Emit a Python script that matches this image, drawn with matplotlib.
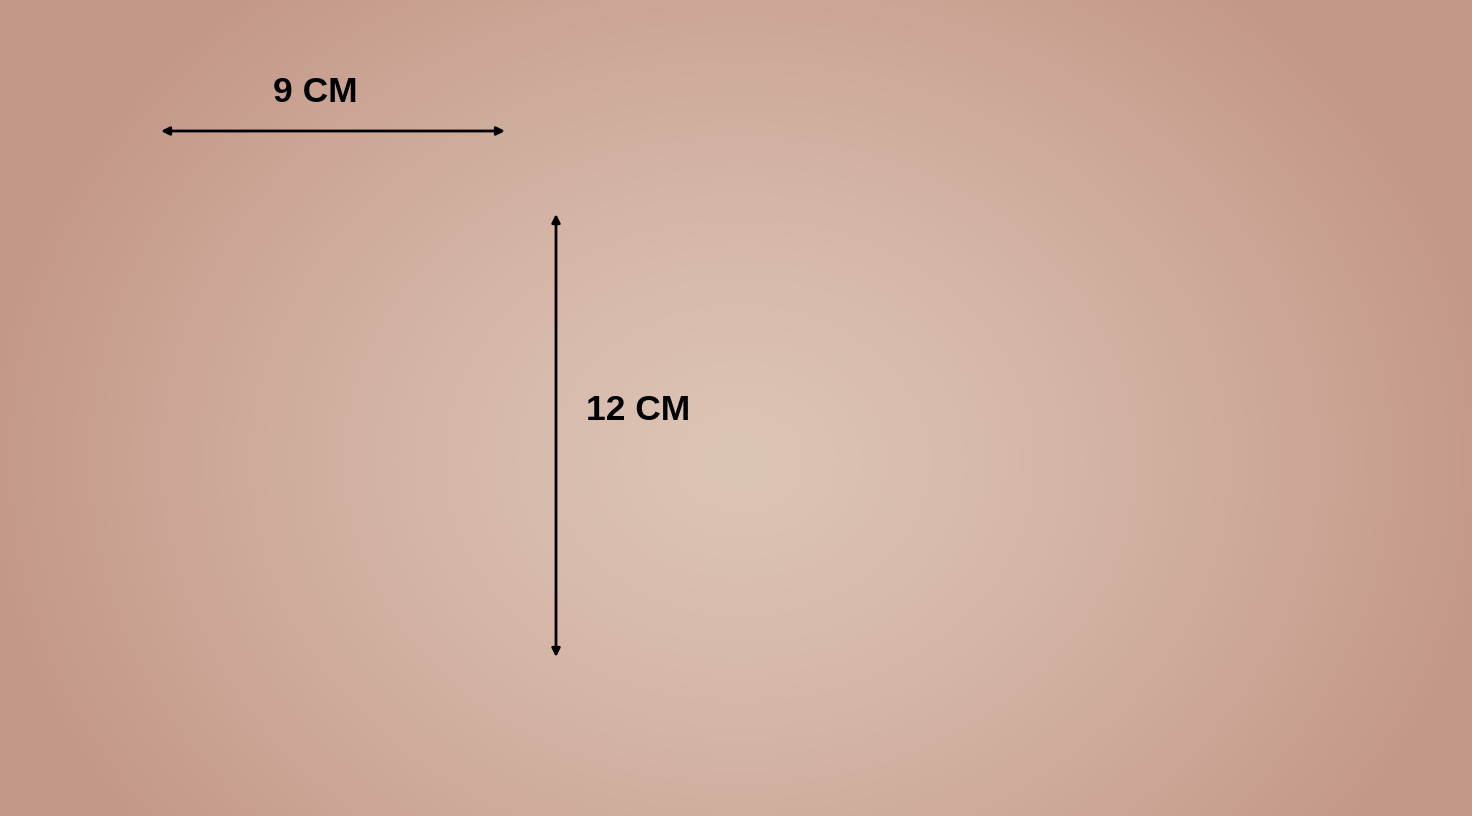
import numpy as np
import matplotlib.pyplot as plt

# dimension labels shown on the card
labels = ["9 CM", "12 CM"]
lengths_cm = [9, 12]

W, H = 1472, 816
fig = plt.figure(figsize=(W / 100, H / 100), dpi=100)
ax = fig.add_axes([0, 0, 1, 1])
ax.set_xlim(0, W)
ax.set_ylim(H, 0)
ax.axis("off")

# radial gradient background
yy, xx = np.mgrid[0:H, 0:W]
r = np.sqrt(((xx - 740) / 760.0) ** 2 + ((yy - 460) / 620.0) ** 2)
r = np.clip(r, 0, 1) ** 1.3
inner = np.array([220, 196, 181]) / 255.0
outer = np.array([196, 152, 136]) / 255.0
img = inner[None, None, :] * (1 - r[..., None]) + outer[None, None, :] * r[..., None]
ax.imshow(img, extent=(0, W, H, 0), aspect="auto", zorder=0)

arrow = dict(arrowstyle="<|-|>", color="black", lw=2, mutation_scale=12,
             shrinkA=0, shrinkB=0)
# horizontal: width
ax.annotate("", xy=(161, 131), xytext=(505, 131), arrowprops=arrow)
ax.text(315, 93, labels[0], ha="center", va="center", fontsize=25.5,
        fontweight="bold", family="Liberation Sans")
# vertical: height
ax.annotate("", xy=(556, 214), xytext=(556, 657), arrowprops=arrow)
ax.text(586, 410, labels[1], ha="left", va="center", fontsize=25.5,
        fontweight="bold", family="Liberation Sans")

fig.savefig("out.png", dpi=100)
